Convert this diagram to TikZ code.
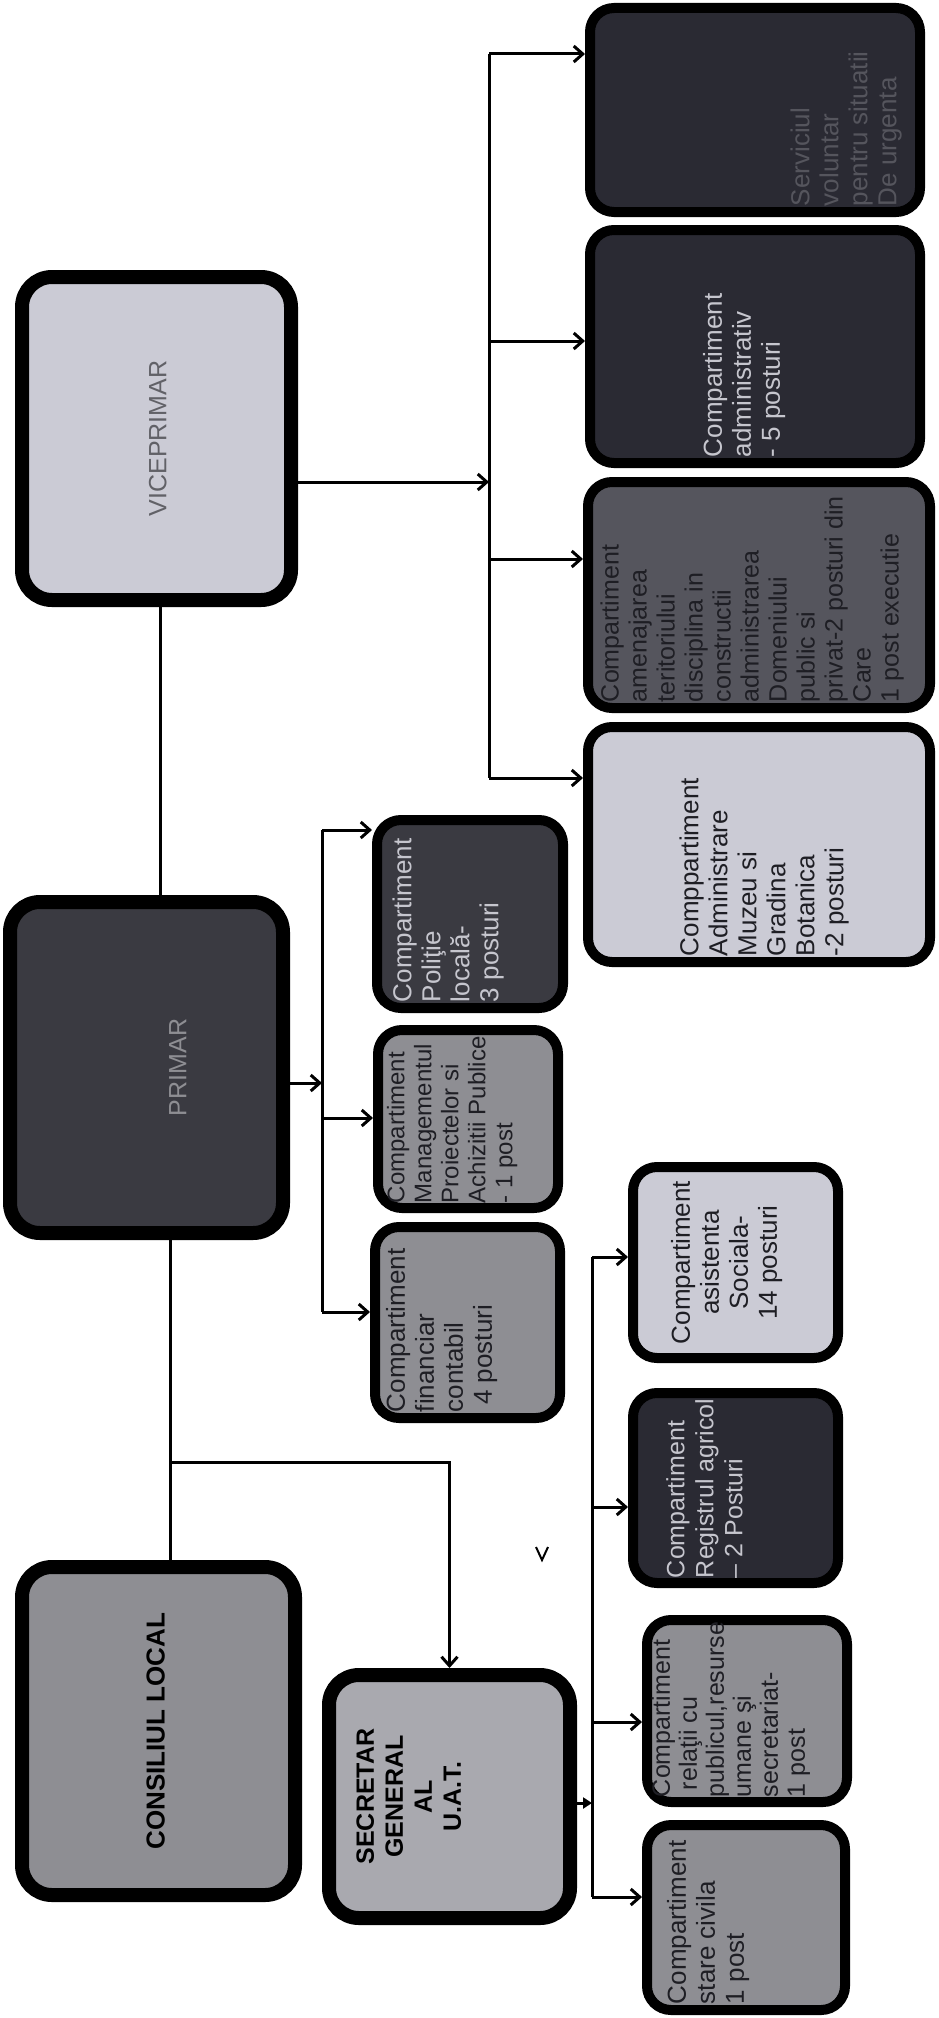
\documentclass[tikz,border=0pt]{standalone}
\usepackage{fontspec}
\setmainfont{Liberation Sans}
\usetikzlibrary{arrows.meta}

\definecolor{palebox}{HTML}{CBCBD5}
\definecolor{greybox}{HTML}{8E8E93}
\definecolor{silverbox}{HTML}{A9A9AF}
\definecolor{darkbox}{HTML}{3A3A41}
\definecolor{nightbox}{HTML}{2A2A33}
\definecolor{slatebox}{HTML}{55555D}
\definecolor{lighttext}{HTML}{C6C6CE}
\definecolor{inktext}{HTML}{1E1E24}

% text turned upwards: [align]{length along the box}{shift to the left}{lines}
\newcommand{\vtxt}[4][l]{\rotatebox{90}{\raisebox{#3}[\height][\depth]{\makebox[#2][#1]{\begin{tabular}{@{}#1@{}}#4\end{tabular}}}}}

\begin{document}
\begin{tikzpicture}[x=1pt,y=1pt,
	>={Straight Barb[length=9pt,width=16pt]},
	conn/.style={line width=3pt},
	head/.style={draw=black,line width=14pt,rounded corners=30pt,inner sep=0pt,anchor=north west,font=\fontsize{25}{29}\selectfont},
	unit/.style={draw=black,line width=10pt,rounded corners=24pt,inner sep=0pt,anchor=north west,font=\fontsize{26}{29}\selectfont}]

	\useasboundingbox (0,0) rectangle (939,-2018);

	% conducere
	\node[head,fill=palebox,text=darkbox!80,minimum width=269,minimum height=323] (vice) at (15,-270) {\vtxt[c]{300pt}{-4pt}{VICEPRIMAR}};
	\node[head,fill=darkbox,text=greybox,minimum width=273,minimum height=331] (primar) at (3,-895) {\vtxt[c]{300pt}{-34pt}{PRIMAR}};
	\node[head,fill=greybox,text=black,minimum width=273,minimum height=328,font=\fontsize{26}{30}\bfseries] (consil) at (15,-1560) {\vtxt[c]{300pt}{0pt}{CONSILIUL LOCAL}};
	\node[head,fill=silverbox,text=black,minimum width=241,minimum height=243,font=\fontsize{25}{29}\bfseries] (secr) at (322,-1668) {\vtxt[c]{220pt}{38pt}{SECRETAR\\GENERAL\\AL\\U.A.T.}};

	% subordonate viceprimar
	\node[unit,fill=nightbox,text=slatebox,minimum width=330,minimum height=204] (serv) at (585,-3) {\vtxt{192pt}{-92pt}{Serviciul\\voluntar\\pentru situatii\\De urgenta}};
	\node[unit,fill=nightbox,text=lighttext,minimum width=330,minimum height=233] (admin) at (585,-225) {\vtxt{221pt}{10pt}{Compartiment\\administrativ\\- 5 posturi}};
	\node[unit,fill=slatebox,text=inktext,minimum width=342,minimum height=226,font=\fontsize{25}{28}\selectfont] (amenaj) at (583,-477) {\vtxt{214pt}{6pt}{Compartiment\\amenajarea\\teritoriului\\disciplina in\\constructii\\administrarea\\Domeniului\\public si\\privat-2 posturi din\\Care\\1 post executie}};
	\node[unit,fill=palebox,text=inktext,minimum width=342,minimum height=235] (muzeu) at (583,-722) {\vtxt{223pt}{-6pt}{Comppartiment\\Administrare\\Muzeu si\\Gradina\\Botanica\\-2 posturi}};

	% subordonate primar
	\node[unit,fill=darkbox,text=lighttext,minimum width=186,minimum height=188] (polit) at (372,-815) {\vtxt{176pt}{21pt}{Compartiment\\Poliţie\\locală-\\3 posturi}};
	\node[unit,fill=greybox,text=inktext,minimum width=180,minimum height=178,font=\fontsize{24}{27}\selectfont] (mgmt) at (373,-1025) {\vtxt{168pt}{15pt}{Compartiment\\Managementul\\Proiectelor si\\Achizitii Publice\\- 1 post}};
	\node[unit,fill=greybox,text=inktext,minimum width=185,minimum height=191] (fin) at (370,-1222) {\vtxt{179pt}{25pt}{Compartiment\\financiar\\contabil\\\ 4 posturi}};

	% subordonate secretar
	\node[unit,fill=palebox,text=inktext,minimum width=205,minimum height=191] (asist) at (628,-1162) {\vtxt[c]{179pt}{8pt}{Compartiment\\asistenta\\Sociala-\\14 posturi}};
	\node[unit,fill=nightbox,text=lighttext,minimum width=205,minimum height=190,font=\fontsize{25}{29}\selectfont] (regist) at (628,-1388) {\vtxt{180pt}{28pt}{Compartiment\\Registrul agricol\\– 2 Posturi}};
	\node[unit,fill=greybox,text=inktext,minimum width=200,minimum height=182,font=\fontsize{25}{27}\selectfont] (relat) at (642,-1615) {\vtxt{172pt}{15pt}{Compartiment\\\ relaţii cu\\publicul,resurse\\umane şi\\secretariat-\\1 post}};
	\node[unit,fill=greybox,text=inktext,minimum width=198,minimum height=185] (stare) at (642,-1820) {\vtxt{173pt}{37pt}{Compartiment\\stare civila\\1 post}};

	% magistrale
	\coordinate (vp) at (160,0);
	\coordinate (pc) at (170,0);
	\coordinate (fork) at (170,-1462);
	\coordinate (vbus) at (489,0);
	\coordinate (pbus) at (322,0);
	\coordinate (sbus) at (592,0);

	\draw[conn] (vice.south -| vp) -- (primar.north -| vp);
	\draw[conn] (primar.south -| pc) -- (consil.north -| pc);
	\draw[conn,->] (fork) -| (secr.north);
	\draw[line width=2pt] (536,-1547) -- (542,-1560) -- (548,-1547);

	\draw[conn,->] (vice.east |- 0,-482) -- (vbus |- 0,-482);
	\draw[conn] (vbus |- 0,-54) -- (vbus |- 0,-778);
	\foreach \n/\y in {serv/54,admin/341,amenaj/559,muzeu/778}
		\draw[conn,->] (vbus |- 0,-\y) -- (\n.west |- 0,-\y);

	\draw[conn,->] (primar.east |- 0,-1083) -- (pbus |- 0,-1083);
	\draw[conn] (pbus |- 0,-830) -- (pbus |- 0,-1312);
	\foreach \n/\y in {polit/830,mgmt/1118,fin/1312}
		\draw[conn,->] (pbus |- 0,-\y) -- (\n.west |- 0,-\y);

	\draw[conn,-{Triangle[length=9pt,width=11pt]}] (secr.east |- 0,-1803) -- (sbus |- 0,-1803);
	\draw[conn] (sbus |- 0,-1257) -- (sbus |- 0,-1897);
	\foreach \n/\y in {asist/1257,regist/1507,relat/1722,stare/1897}
		\draw[conn,->] (sbus |- 0,-\y) -- (\n.west |- 0,-\y);

\end{tikzpicture}
\end{document}
